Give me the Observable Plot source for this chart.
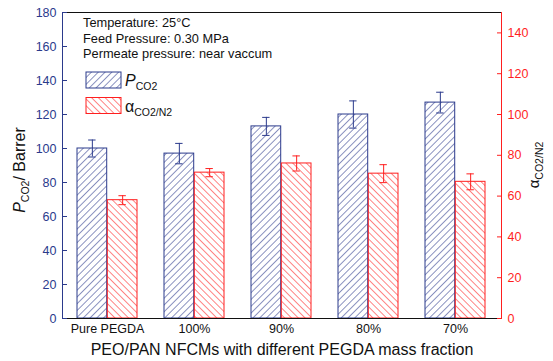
<!DOCTYPE html>
<html>
<head>
<meta charset="utf-8">
<script src="https://cdn.jsdelivr.net/npm/d3@7"></script>
<script src="https://cdn.jsdelivr.net/npm/@observablehq/plot@0.6"></script>
<style>
  html, body { margin: 0; padding: 0; background: #fff; }
  svg { font-family: "Liberation Sans", Arial, sans-serif; }
</style>
</head>
<body>
<div id="chart"></div>
<script>
// ---- data ----
const categories = ["Pure PEGDA", "100%", "90%", "80%", "70%"];
const pco2 = [100, 97, 113, 120, 127];
const pco2Err = [5, 6, 5.3, 8, 6.1];
const alpha = [58, 71.5, 76, 71, 67];
const alphaErr = [2.2, 2, 3.7, 4.4, 3.9];
const leftTicks = [0, 20, 40, 60, 80, 100, 120, 140, 160, 180];
const rightTicks = [0, 20, 40, 60, 80, 100, 120, 140];
const conditions = ["Temperature: 25\u00B0C", "Feed Pressure: 0.30 MPa", "Permeate pressure: near vaccum"];
const xTitle = "PEO/PAN NFCMs with different PEGDA mass fraction";

// ---- styling ----
const navy = "#2b3a8c";
const red = "#ff1f1f";
const W = 553, H = 361;
const mL = 62, mR = 52, mT = 12, mB = 43;
const leftMax = 180, rightMax = 150;
const k = leftMax / rightMax; // map right axis into left scale
const padInner = 0.31, padOuter = 0.155;

const bw = d3.scaleBand().domain(categories).range([mL, W - mR])
  .paddingInner(padInner).paddingOuter(padOuter).bandwidth();
const half = bw / 2;
const capHalf = 4;

const data = categories.map((c, i) => ({
  cat: c, p: pco2[i], pe: pco2Err[i], a: alpha[i], ae: alphaErr[i]
}));

const SVGNS = "http://www.w3.org/2000/svg";
function el(tag, attrs) {
  const e = document.createElementNS(SVGNS, tag);
  for (const [key, v] of Object.entries(attrs || {})) e.setAttribute(key, v);
  return e;
}

// hatch patterns
function defsMark() {
  const g = el("g");
  const defs = el("defs");
  const mk = (id, color, angle) => {
    const p = el("pattern", {id, patternUnits: "userSpaceOnUse", width: 4.8, height: 4.8, patternTransform: `rotate(${angle})`});
    p.appendChild(el("line", {x1: 0, y1: -1, x2: 0, y2: 6, stroke: color, "stroke-width": 1.1}));
    defs.appendChild(p);
  };
  mk("hatchBlue", navy, 45);
  mk("hatchRed", red, -45);
  g.appendChild(defs);
  return g;
}

// annotations, legend and axis titles
function annoMark() {
  const g = el("g", {"text-anchor": "start"});
  conditions.forEach((t, i) => {
    const tx = el("text", {x: 83, y: 27 + i * 15.5, "font-size": 12.8, fill: "#111", "text-anchor": "start"});
    tx.textContent = t;
    g.appendChild(tx);
  });
  // legend
  const items = [
    {fill: "url(#hatchBlue)", stroke: navy, y: 72, main: "P", italic: true, sub: "CO2"},
    {fill: "url(#hatchRed)", stroke: red, y: 97.5, main: "\u03B1", italic: false, sub: "CO2/N2"}
  ];
  for (const it of items) {
    g.appendChild(el("rect", {x: 86, y: it.y, width: 35, height: 16, fill: it.fill, stroke: it.stroke, "stroke-width": 1}));
    const t = el("text", {x: 125, y: it.y + 14, "font-size": 16, fill: "#111", "text-anchor": "start"});
    const m = el("tspan", {"font-style": it.italic ? "italic" : "normal"});
    m.textContent = it.main;
    const s = el("tspan", {"font-size": 10.5, dy: 4});
    s.textContent = it.sub;
    t.appendChild(m); t.appendChild(s);
    g.appendChild(t);
  }
  // left title
  const lt = el("text", {transform: `translate(25,${(mT + H - mB) / 2 + 5}) rotate(-90)`, "text-anchor": "middle", "font-size": 16, fill: "#111"});
  const lp = el("tspan", {"font-style": "italic"}); lp.textContent = "P";
  const ls = el("tspan", {"font-size": 10.5, dy: 4}); ls.textContent = "CO2";
  const lr = el("tspan", {dy: -4}); lr.textContent = "/ Barrer";
  lt.appendChild(lp); lt.appendChild(ls); lt.appendChild(lr);
  g.appendChild(lt);
  // right title
  const rt = el("text", {transform: `translate(539,${(mT + H - mB) / 2}) rotate(-90)`, "text-anchor": "middle", "font-size": 15, fill: "#111"});
  const ra = el("tspan"); ra.textContent = "\u03B1";
  const rs = el("tspan", {"font-size": 10.5, dy: 4}); rs.textContent = "CO2/N2";
  rt.appendChild(ra); rt.appendChild(rs);
  g.appendChild(rt);
  return g;
}

const chart = Plot.plot({
  width: W,
  height: H,
  marginLeft: mL, marginRight: mR, marginTop: mT, marginBottom: mB,
  style: {fontFamily: "Liberation Sans, Arial, sans-serif", background: "white"},
  x: {type: "band", domain: categories, paddingInner: padInner, paddingOuter: padOuter, axis: null},
  y: {domain: [0, leftMax], axis: null},
  marks: [
    defsMark,
    // blue bars (left axis)
    Plot.barY(data, {x: "cat", y: "p", insetRight: half, fill: "url(#hatchBlue)", stroke: navy, strokeWidth: 1}),
    // red bars (right axis, mapped)
    Plot.barY(data, {x: "cat", y: d => d.a * k, insetLeft: half, fill: "url(#hatchRed)", stroke: red, strokeWidth: 1}),
    // error bars blue
    Plot.ruleX(data, {x: "cat", y1: d => d.p - d.pe, y2: d => d.p + d.pe, dx: -half / 2, stroke: navy, strokeWidth: 1}),
    Plot.tickY(data, {x: "cat", y: d => d.p + d.pe, insetLeft: half / 2 - capHalf, insetRight: half * 1.5 - capHalf, stroke: navy}),
    Plot.tickY(data, {x: "cat", y: d => d.p - d.pe, insetLeft: half / 2 - capHalf, insetRight: half * 1.5 - capHalf, stroke: navy}),
    // error bars red
    Plot.ruleX(data, {x: "cat", y1: d => (d.a - d.ae) * k, y2: d => (d.a + d.ae) * k, dx: half / 2, stroke: red, strokeWidth: 1}),
    Plot.tickY(data, {x: "cat", y: d => (d.a + d.ae) * k, insetLeft: half * 1.5 - capHalf, insetRight: half / 2 - capHalf, stroke: red}),
    Plot.tickY(data, {x: "cat", y: d => (d.a - d.ae) * k, insetLeft: half * 1.5 - capHalf, insetRight: half / 2 - capHalf, stroke: red}),
    // frame lines
    Plot.frame({anchor: "top", stroke: "#111"}),
    Plot.frame({anchor: "bottom", stroke: "#111"}),
    Plot.frame({anchor: "left", stroke: navy}),
    Plot.frame({anchor: "right", stroke: red}),
    // left axis: labels, then inward ticks
    Plot.axisY({anchor: "left", ticks: leftTicks, tickSize: 0, tickPadding: 6, fontSize: 12.5, color: navy, label: null}),
    Plot.axisY({anchor: "left", ticks: leftTicks, tickSize: 5, dx: 5, tickFormat: () => "", stroke: navy, label: null}),
    // right axis
    Plot.axisY({anchor: "right", ticks: rightTicks.map(v => v * k), tickFormat: v => String(Math.round(v / k)), tickSize: 0, tickPadding: 6, fontSize: 12.5, color: red, label: null}),
    Plot.axisY({anchor: "right", ticks: rightTicks.map(v => v * k), tickSize: 5, dx: -5, tickFormat: () => "", stroke: red, label: null}),
    // x axis
    Plot.axisX({anchor: "bottom", tickSize: 0, tickPadding: 6, fontSize: 12.5, color: "#111", label: null}),
    Plot.text([xTitle], {frameAnchor: "bottom", dy: 36, fontSize: 16, fill: "#111", lineAnchor: "bottom"}),
    annoMark
  ]
});
document.getElementById("chart").appendChild(chart);
</script>
</body>
</html>
